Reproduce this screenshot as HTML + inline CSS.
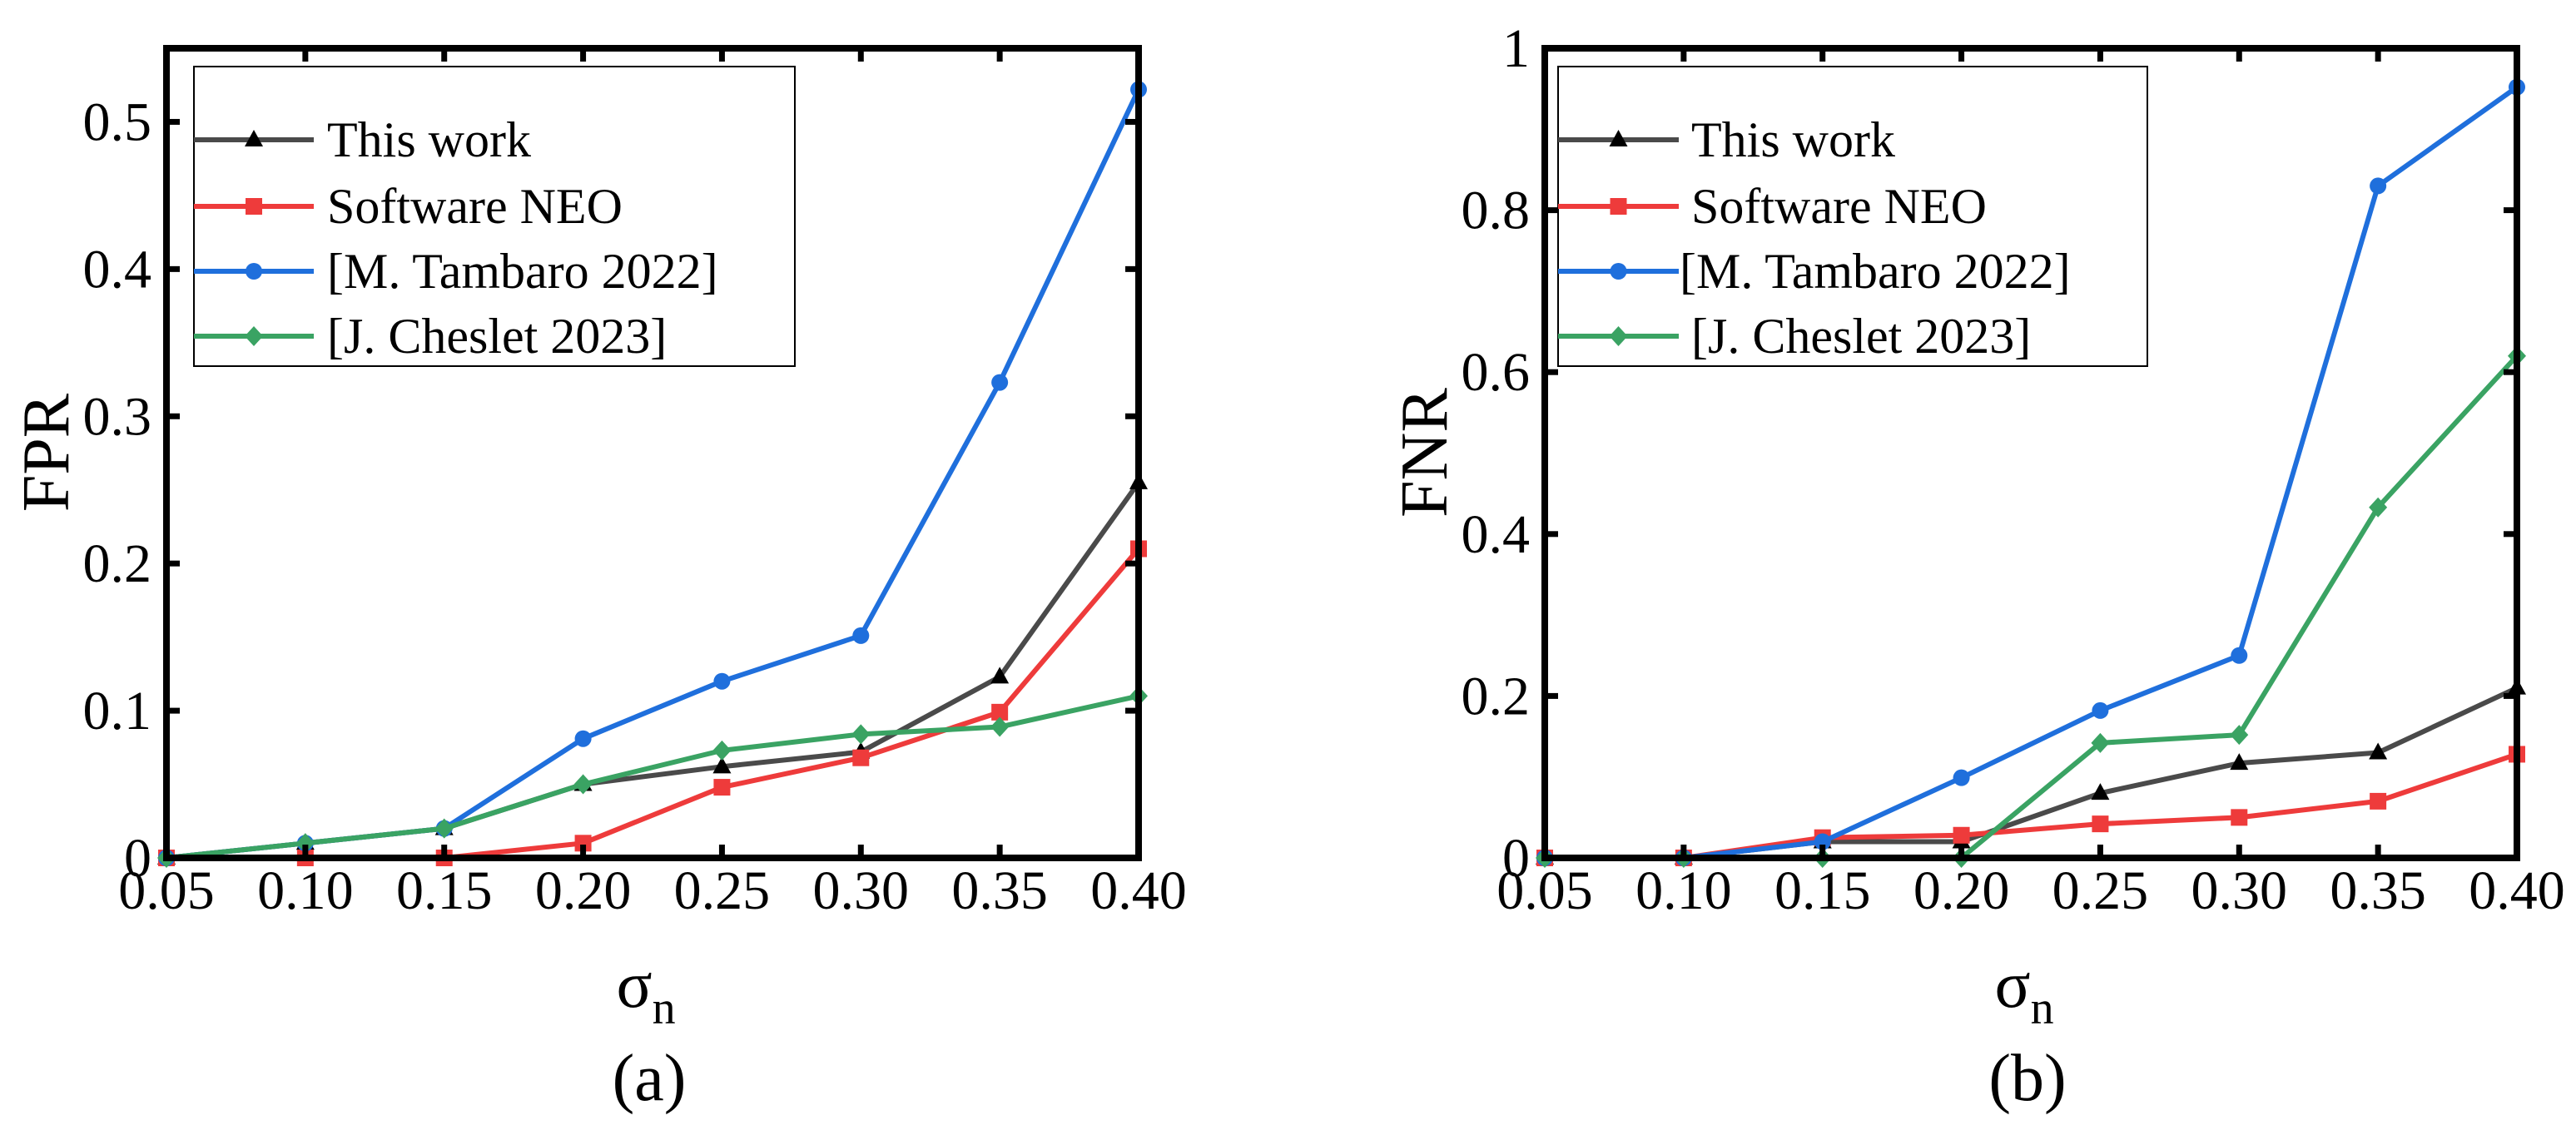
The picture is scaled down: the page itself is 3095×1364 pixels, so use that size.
<!DOCTYPE html>
<html><head><meta charset="utf-8"><style>
html,body{margin:0;padding:0;background:#fff}
svg{display:block}
text{font-family:"Liberation Serif",serif;fill:#000}
</style></head><body>
<svg id="chart" width="3095" height="1364" viewBox="0 0 3095 1364"></svg>
<script>
const xCategories=[0.05,0.10,0.15,0.20,0.25,0.30,0.35,0.40];
const xTickLabels=["0.05","0.10","0.15","0.20","0.25","0.30","0.35","0.40"];
const seriesNames=["This work","Software NEO","[M. Tambaro 2022]","[J. Cheslet 2023]"];
const fprThisWork=[0,0.01,0.02,0.05,0.062,0.072,0.123,0.255];
const fprNEO=[0,0,0,0.01,0.048,0.068,0.099,0.21];
const fprTambaro=[0,0.01,0.02,0.081,0.12,0.151,0.323,0.522];
const fprCheslet=[0,0.01,0.02,0.05,0.073,0.084,0.089,0.11];
const fnrThisWork=[0,0,0.02,0.02,0.08,0.117,0.13,0.21];
const fnrNEO=[0,0,0.025,0.028,0.042,0.05,0.07,0.128];
const fnrTambaro=[0,0,0.02,0.099,0.182,0.25,0.83,0.952];
const fnrCheslet=[0,0,0,0,0.142,0.152,0.433,0.62];
const fprYTicks=[0,0.1,0.2,0.3,0.4,0.5];
const fprYTickLabels=["0","0.1","0.2","0.3","0.4","0.5"];
const fnrYTicks=[0,0.2,0.4,0.6,0.8,1];
const fnrYTickLabels=["0","0.2","0.4","0.6","0.8","1"];

const NS="http://www.w3.org/2000/svg";
const svg=document.getElementById('chart');
function mk(tag,attrs,parent){const e=document.createElementNS(NS,tag);for(const k in attrs)e.setAttribute(k,attrs[k]);(parent||svg).appendChild(e);return e;}
const colors=["#4a4a4a","#ee3b3b","#1f6fdc","#3aa363"];
const markers=["tri","sq","circ","dia"];

function marker(g,type,x,y,c){
  let e;
  if(type==="tri")e=mk('polygon',{points:`${x},${y-12} ${x-11},${y+8} ${x+11},${y+8}`,fill:"#000"},g);
  else if(type==="sq")e=mk('rect',{x:x-10,y:y-10,width:20,height:20,fill:c},g);
  else if(type==="circ")e=mk('circle',{cx:x,cy:y,r:10,fill:c},g);
  else e=mk('polygon',{points:`${x},${y-12} ${x+11},${y} ${x},${y+12} ${x-11},${y}`,fill:c},g);
  return e;
}

function panel(id,left,ymax,yTicks,yLabels,data,yTitle,yTitleX,caption,legend){
  const right=left+1168, top=58, bottom=1031;
  const xs=v=>left+(v-0.05)/0.35*(right-left);
  const ys=v=>bottom-v/ymax*(bottom-top);
  const g=mk('g',{});
  
  
  data.forEach((vals,i)=>{
    const sg=mk('g',{},g);
    
    
    const pts=vals.map((v,j)=>xs(xCategories[j])+","+ys(v)).join(" ");
    const pl=mk('polyline',{points:pts,fill:"none",stroke:colors[i],"stroke-width":6,"stroke-linejoin":"round"},sg);
    
    
    vals.forEach((v,j)=>{const m=marker(sg,markers[i],xs(xCategories[j]),ys(v),colors[i]);
      
      });
  });
  const fr=mk('rect',{x:left,y:top,width:right-left,height:bottom-top,fill:"none",stroke:"#000","stroke-width":8},g);
  
  
  xCategories.forEach((v,j)=>{
    const x=xs(v);
    mk('line',{x1:x,y1:bottom,x2:x,y2:bottom-16,stroke:"#000","stroke-width":7},g);
    mk('line',{x1:x,y1:top,x2:x,y2:top+16,stroke:"#000","stroke-width":7},g);
    const t=mk('text',{x:x,y:1092,"font-size":66,"text-anchor":"middle"},g);t.textContent=xTickLabels[j];
    
    
  });
  yTicks.forEach((v,j)=>{
    const y=ys(v);
    mk('line',{x1:left,y1:y,x2:left+16,y2:y,stroke:"#000","stroke-width":7},g);
    mk('line',{x1:right,y1:y,x2:right-16,y2:y,stroke:"#000","stroke-width":7},g);
    const t=mk('text',{x:left-18,y:y+22,"font-size":66,"text-anchor":"end"},g);t.textContent=yLabels[j];
    
    
  });
  const yt=mk('text',{x:0,y:0,"font-size":80,"text-anchor":"middle",transform:`translate(${yTitleX},544) rotate(-90)`},g);
  yt.textContent=yTitle;
  
  
  const cx=(left+right)/2;
  const xt=mk('text',{x:cx-8,y:1210,"font-size":80,"text-anchor":"middle"},g);
  xt.innerHTML='σ<tspan font-size="56" dy="20">n</tspan>';
  
  
  const cap=mk('text',{x:cx-4,y:1322,"font-size":80,"text-anchor":"middle"},g);
  cap.textContent=caption;
  
  
  const lg=mk('g',{},g);
  
  
  mk('rect',{x:legend.x,y:80,width:legend.w,height:360,fill:"#fff",stroke:"#000","stroke-width":2},lg);
  const rows=[168,248,326,404];
  seriesNames.forEach((n,i)=>{
    const e=mk('g',{},lg);
    
    
    mk('line',{x1:legend.x,y1:rows[i],x2:legend.x+legend.len,y2:rows[i],stroke:colors[i],"stroke-width":6},e);
    marker(e,markers[i],legend.x+legend.len/2,rows[i],colors[i]);
    const t=mk('text',{x:legend.tx[i],y:rows[i]+20,"font-size":60},e);t.textContent=n;
  });
}
panel('fpr',200,0.55,fprYTicks,fprYTickLabels,[fprThisWork,fprNEO,fprTambaro,fprCheslet],"FPR",82,"(a)",
  {x:233,w:722,len:144,tx:[393,393,393,393]});
panel('fnr',1856,1,fnrYTicks,fnrYTickLabels,[fnrThisWork,fnrNEO,fnrTambaro,fnrCheslet],"FNR",1738,"(b)",
  {x:1872,w:708,len:145,tx:[2032,2032,2018,2032]});
</script>
</body></html>
